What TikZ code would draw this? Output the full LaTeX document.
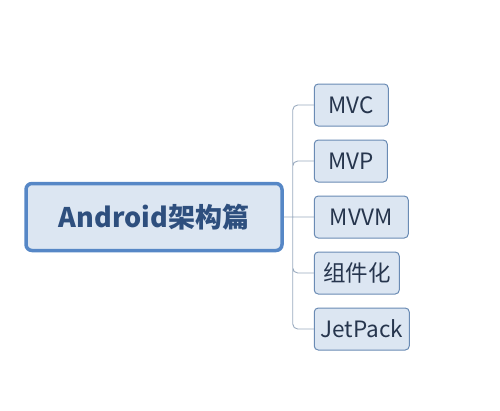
\documentclass[tikz,border=0pt]{standalone}
\usepackage{fontspec}
\setmainfont{Noto Sans CJK SC}
\usetikzlibrary{positioning}
\definecolor{rootline}{HTML}{5687C6}
\definecolor{boxfill}{HTML}{DCE6F2}
\definecolor{roottext}{HTML}{2E4F7E}
\definecolor{leafline}{HTML}{6A8BB4}
\definecolor{leaftext}{HTML}{26354D}
\definecolor{branchline}{HTML}{9AABBF}
\tikzset{root node/.style={draw=rootline,fill=boxfill,line width=3.5pt,rounded corners=6pt,
    minimum width=256pt,minimum height=67pt,inner sep=0pt,text=roottext,font=\fontsize{27}{30}\selectfont\bfseries},
  leaf node/.style={draw=leafline,fill=boxfill,line width=1pt,rounded corners=4pt,
    minimum height=42pt,inner xsep=0pt,text=leaftext,font=\fontsize{22.5}{25}\selectfont},
  branch/.style={draw=branchline,line width=0.9pt,rounded corners=5pt},}

\begin{document}
\begin{tikzpicture}[x=1pt,y=-1pt]
  \useasboundingbox (0,0) rectangle (500,410);
   \node[root node] (root) at (154,217) {Android架构篇};
    \node[leaf node,minimum width=94pt] (mvvm) [right = 30pt of root.east, anchor=west] {MVVM};
    \node[leaf node,minimum width=73pt] (mvp) [above = 13pt of mvvm.north west, anchor=south west] {MVP};
    \node[leaf node,minimum width=74pt] (mvc) [above = 13pt of mvp.north west, anchor=south west] {MVC};
    \node[leaf node,minimum width=85pt] (comp) [below = 13pt of mvvm.south west, anchor=north west] {组件化};
    \node[leaf node,minimum width=95pt] (jet) [below = 13pt of comp.south west, anchor=north west] {JetPack};
    \coordinate[right = 9pt of root.east] (trunk);

    \path[branch]
    (root.east) -- (mvvm.west)
    (trunk) |- (mvc.west)
    (trunk) |- (mvp.west)
    (trunk) |- (comp.west)
    (trunk) |- (jet.west);
  \end{tikzpicture}
\end{document}
